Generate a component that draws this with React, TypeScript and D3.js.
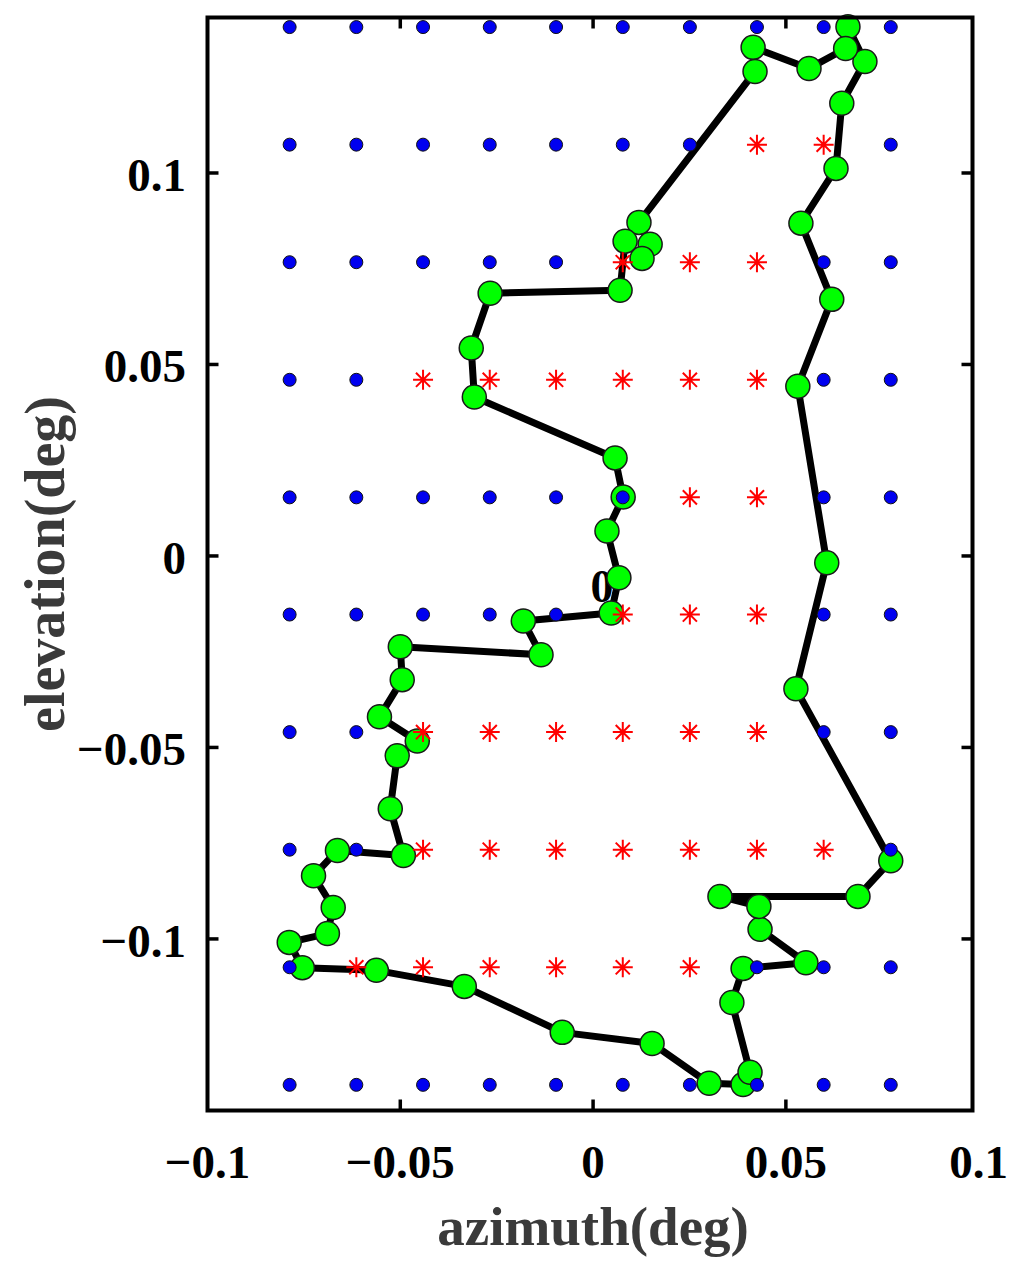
import React, { useRef, useEffect } from "react";
import * as d3 from "d3";

// grid of beam positions (deg)
const azGrid = [-0.0787, -0.0614, -0.0441, -0.0268, -0.0096, 0.0077, 0.0251, 0.0425, 0.0598, 0.0772];
const elGrid = [0.1381, 0.1074, 0.0767, 0.046, 0.0153, -0.0153, -0.046, -0.0767, -0.1074, -0.1381];

// 1 = red star, 0 = blue dot (rows top to bottom)
const starMask = [
  "0000000000",
  "0000000110",
  "0000011100",
  "0011111100",
  "0000001100",
  "0000011100",
  "0011111100",
  "0011111110",
  "0111111000",
  "0000000000",
];

// boundary contour (closed)
const contourAz = [
  0.0119, 0.0148, 0.0127, 0.0083, 0.007, -0.0267, -0.0316, -0.0308, 0.0057, 0.0078,
  0.0036, 0.0067, 0.0047, -0.0181, -0.0135, -0.05, -0.0495, -0.0554, -0.0456, -0.0508,
  -0.0526, -0.0492, -0.0663, -0.0725, -0.0674, -0.0689, -0.0788, -0.0754, -0.0562, -0.0334,
  -0.008, 0.0153, 0.0301, 0.0389, 0.0407, 0.036, 0.0389, 0.0552, 0.0433, 0.043,
  0.0329, 0.0687, 0.0772, 0.0526, 0.0606, 0.0531, 0.0619, 0.0539, 0.063, 0.0645,
  0.0705, 0.0661, 0.0655, 0.056, 0.0415, 0.042,
];
const contourEl = [
  0.0871, 0.0814, 0.0777, 0.0822, 0.0694, 0.0686, 0.0543, 0.0415, 0.0256, 0.0154,
  0.0065, -0.0057, -0.0149, -0.017, -0.0258, -0.0237, -0.0323, -0.042, -0.0483, -0.0522,
  -0.066, -0.0782, -0.0769, -0.0835, -0.0918, -0.0986, -0.1009, -0.1075, -0.1082, -0.1124,
  -0.1244, -0.1273, -0.1377, -0.138, -0.1348, -0.1166, -0.1077, -0.1062, -0.0975, -0.0915,
  -0.0889, -0.0889, -0.0796, -0.0347, -0.0018, 0.0443, 0.067, 0.0869, 0.1012, 0.1182,
  0.1291, 0.1382, 0.1325, 0.1273, 0.1328, 0.1265,
];

const xTicks = [-0.1, -0.05, 0, 0.05, 0.1];
const yTicks = [-0.1, -0.05, 0, 0.05, 0.1];
const xTitle = "azimuth(deg)";
const yTitle = "elevation(deg)";
const strayLabel = { az: 0.0023, el: -0.012, text: "0" };

const FONT = "'Liberation Serif', 'Times New Roman', serif";

const fmt = (v: number) => (v === 0 ? "0" : (v < 0 ? "\u2212" : "") + String(Math.abs(v)));

const App = () => {
  const ref = useRef<SVGSVGElement>(null);

  useEffect(() => {
    const svg = d3.select(ref.current);
    svg.selectAll("*").remove();

    const left = 207.5, right = 972.5, top = 17.5, bottom = 1110.5;
    const x = d3.scaleLinear().domain([-0.1, 0.0984]).range([left, right]);
    const y = d3.scaleLinear().domain([-0.1448, 0.1406]).range([bottom, top]);

    svg.append("rect").attr("width", 1020).attr("height", 1280).attr("fill", "#fff");

    // stray label inside plot
    svg
      .append("text")
      .attr("x", x(strayLabel.az))
      .attr("y", y(strayLabel.el))
      .attr("text-anchor", "middle")
      .attr("font-family", FONT)
      .attr("font-weight", "bold")
      .attr("font-size", 46)
      .text(strayLabel.text);

    const pts = contourAz.map((a, i) => [a, contourEl[i]] as [number, number]);
    const line = d3
      .line<[number, number]>()
      .x((d) => x(d[0]))
      .y((d) => y(d[1]))
      .curve(d3.curveLinearClosed);

    svg
      .append("path")
      .datum(pts)
      .attr("fill", "none")
      .attr("stroke", "#000")
      .attr("stroke-width", 7)
      .attr("stroke-linejoin", "round")
      .attr("d", line);

    svg
      .selectAll("circle.pt")
      .data(pts)
      .join("circle")
      .attr("class", "pt")
      .attr("cx", (d) => x(d[0]))
      .attr("cy", (d) => y(d[1]))
      .attr("r", 12)
      .attr("fill", "#00ff00")
      .attr("stroke", "#1a1a1a")
      .attr("stroke-width", 1.5);

    // grid markers
    const cells: { az: number; el: number; star: boolean }[] = [];
    elGrid.forEach((el, r) =>
      azGrid.forEach((az, c) => cells.push({ az, el, star: starMask[r][c] === "1" }))
    );

    const arm = 10;
    const starPath = d3.range(4).map((k) => {
      const a = (k * Math.PI) / 4;
      const dx = arm * Math.cos(a), dy = arm * Math.sin(a);
      return `M${-dx},${-dy}L${dx},${dy}`;
    }).join("");

    svg
      .selectAll("path.star")
      .data(cells.filter((d) => d.star))
      .join("path")
      .attr("class", "star")
      .attr("transform", (d) => `translate(${x(d.az)},${y(d.el)})`)
      .attr("d", starPath)
      .attr("stroke", "#ff0000")
      .attr("stroke-width", 2)
      .attr("fill", "none");

    svg
      .selectAll("circle.dot")
      .data(cells.filter((d) => !d.star))
      .join("circle")
      .attr("class", "dot")
      .attr("cx", (d) => x(d.az))
      .attr("cy", (d) => y(d.el))
      .attr("r", 6.5)
      .attr("fill", "#0000f0")
      .attr("stroke", "#111")
      .attr("stroke-width", 1);

    // frame and ticks (all four sides, inward)
    const tl = 11;
    const g = svg.append("g").attr("stroke", "#000").attr("stroke-width", 3.5);
    xTicks.filter((t) => x(t) > left + 2 && x(t) < right - 2).forEach((t) => {
      g.append("line").attr("x1", x(t)).attr("x2", x(t)).attr("y1", bottom).attr("y2", bottom - tl);
      g.append("line").attr("x1", x(t)).attr("x2", x(t)).attr("y1", top).attr("y2", top + tl);
    });
    yTicks.forEach((t) => {
      g.append("line").attr("x1", left).attr("x2", left + tl).attr("y1", y(t)).attr("y2", y(t));
      g.append("line").attr("x1", right).attr("x2", right - tl).attr("y1", y(t)).attr("y2", y(t));
    });
    g.append("rect")
      .attr("x", left)
      .attr("y", top)
      .attr("width", right - left)
      .attr("height", bottom - top)
      .attr("fill", "none")
      .attr("stroke-width", 4);

    // tick labels
    svg
      .append("g")
      .selectAll("text")
      .data(xTicks)
      .join("text")
      .attr("x", (d) => x(d))
      .attr("y", 1178)
      .attr("text-anchor", "middle")
      .attr("font-family", FONT)
      .attr("font-weight", "bold")
      .attr("font-size", 47)
      .text((d) => fmt(d));

    svg
      .append("g")
      .selectAll("text")
      .data(yTicks)
      .join("text")
      .attr("x", 186)
      .attr("y", (d) => y(d) + 18)
      .attr("text-anchor", "end")
      .attr("font-family", FONT)
      .attr("font-weight", "bold")
      .attr("font-size", 47)
      .text((d) => fmt(d));

    // axis titles
    svg
      .append("text")
      .attr("x", x(0))
      .attr("y", 1245)
      .attr("text-anchor", "middle")
      .attr("font-family", FONT)
      .attr("font-weight", "bold")
      .attr("font-size", 55)
      .attr("fill", "#3a3a3a")
      .text(xTitle);

    svg
      .append("text")
      .attr("transform", `translate(64,${y(0) + 8}) rotate(-90)`)
      .attr("text-anchor", "middle")
      .attr("font-family", FONT)
      .attr("font-weight", "bold")
      .attr("font-size", 56)
      .attr("fill", "#3a3a3a")
      .text(yTitle);
  }, []);

  return (
    <svg
      ref={ref}
      width={1020}
      height={1280}
      style={{ position: "absolute", left: 0, top: 0 }}
    ></svg>
  );
};

export default App;
